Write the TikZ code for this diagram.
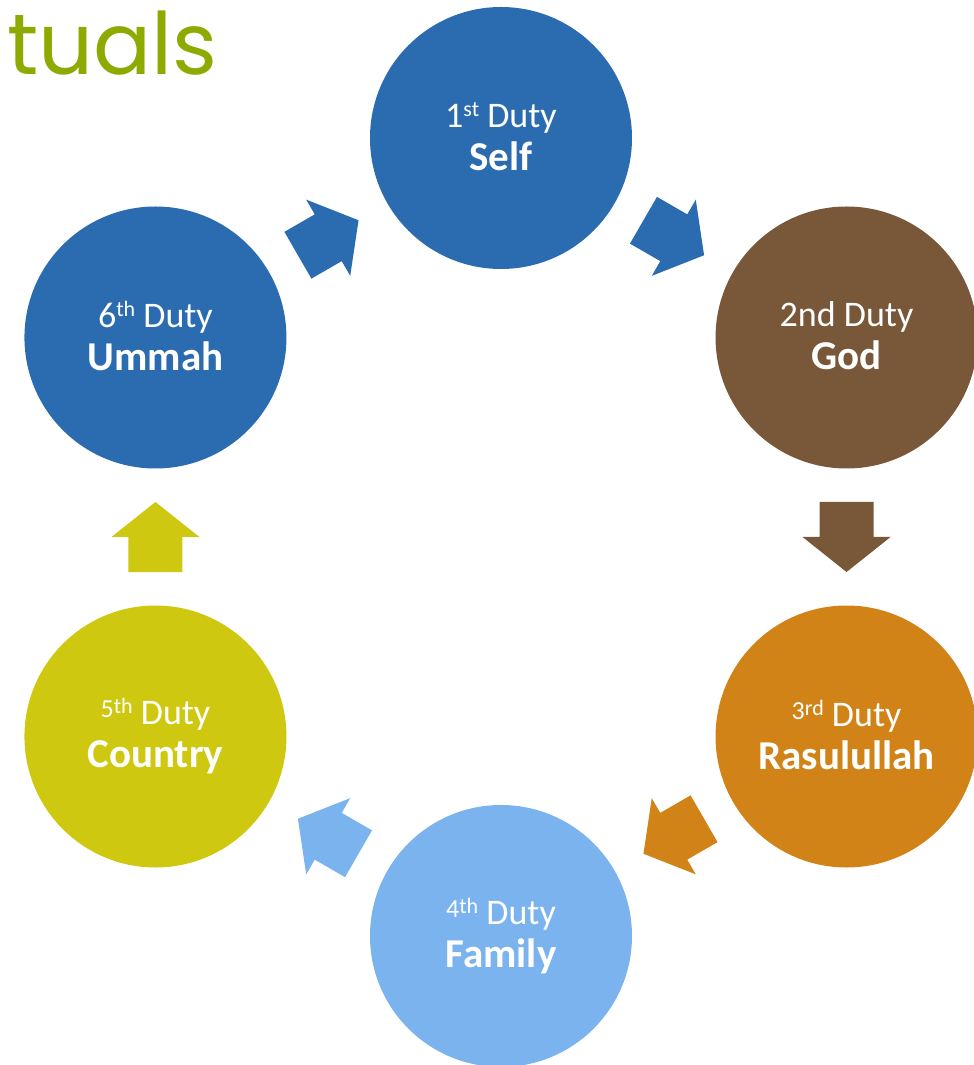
\documentclass[tikz,border=0pt]{standalone}
\usepackage{fontspec}
\setmainfont{Carlito}
\newfontfamily\titlefont{Poppins}
\usetikzlibrary{calc}

\definecolor{dutyblue}{RGB}{43,108,176}
\definecolor{dutybrown}{RGB}{120,88,56}
\definecolor{dutyorange}{RGB}{210,131,24}
\definecolor{dutysky}{RGB}{122,179,238}
\definecolor{dutyolive}{RGB}{206,201,16}
\definecolor{titlegreen}{RGB}{140,170,0}

\newcommand{\dutysup}[1]{\raisebox{11pt}{\fontsize{22}{22}\selectfont #1}}
\newcommand{\dutysmall}[2]{\raisebox{7pt}{\fontsize{26}{26}\selectfont #1}\raisebox{11pt}{\fontsize{22}{22}\selectfont #2}}
\newcommand{\dutytext}[2]{\rule{0pt}{26pt}#1 Duty\\{\fontsize{41}{43}\selectfont\bfseries #2}\rule[-4pt]{0pt}{4pt}}

\tikzset{
  duty/.style={circle, minimum size=262pt, inner sep=0pt, draw=none, text=white, align=center,
    font=\fontsize{36}{43}\selectfont},
  blockarrow/.pic={
    \path[pic actions] (-35,-27) -- (0,-27) -- (0,-44) -- (35,0) -- (0,44) -- (0,27) -- (-35,27) -- cycle;
  }
}

\begin{document}
\begin{tikzpicture}[>=stealth, x=1pt, y=1pt]
  \useasboundingbox (-501,-528) rectangle (473,537);
  % Title, cut at the left edge
  \node[anchor=base west, inner sep=0pt, text=titlegreen, font=\titlefont\fontsize{86}{86}\selectfont] (title) at (-494,462) {tuals};
  % The six duties round the cycle
  \node[duty, fill=dutyblue] (self) at (90:399) {\dutytext{1\dutysup{st}}{Self}};
  \node[duty, fill=dutybrown] (god) at (30:399) {\dutytext{2nd}{God}};
  \node[duty, fill=dutyorange] (rasul) at (-30:399) {\dutytext{\dutysmall{3}{rd}}{Rasulullah}};
  \node[duty, fill=dutysky] (family) at (-90:399) {\dutytext{\dutysmall{4}{th}}{Family}};
  \node[duty, fill=dutyolive] (country) at (-150:399) {\dutytext{\dutysmall{5}{th}}{Country}};
  \node[duty, fill=dutyblue] (ummah) at (150:399) {\dutytext{6\dutysup{th}}{Ummah}};
  % Block arrows halfway between neighbours
  \pic[fill=dutyblue, rotate=-30] at ($(self)!0.5!(god)$) {blockarrow};
  \pic[fill=dutybrown, rotate=-90] at ($(god)!0.5!(rasul)$) {blockarrow};
  \pic[fill=dutyorange, rotate=-150] at ($(rasul)!0.5!(family)$) {blockarrow};
  \pic[fill=dutysky, rotate=150] at ($(family)!0.5!(country)$) {blockarrow};
  \pic[fill=dutyolive, rotate=90] at ($(country)!0.5!(ummah)$) {blockarrow};
  \pic[fill=dutyblue, rotate=30] at ($(ummah)!0.5!(self)$) {blockarrow};
\end{tikzpicture}
\end{document}
